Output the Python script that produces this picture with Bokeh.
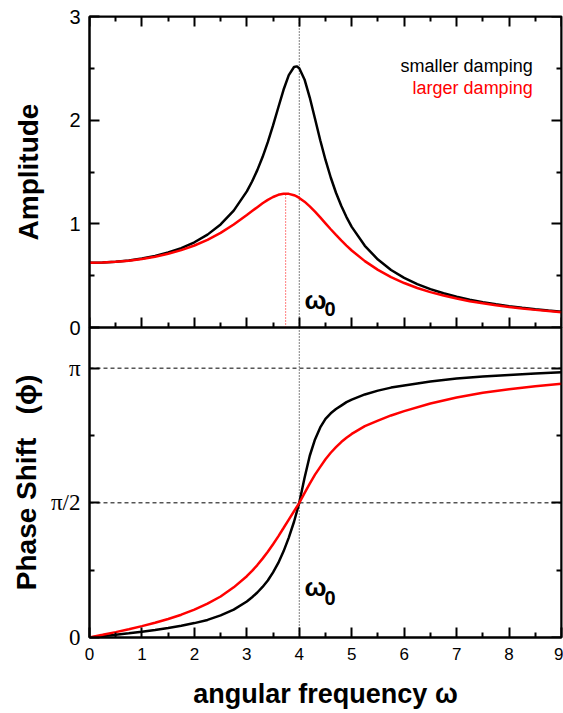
import math
from bokeh.plotting import figure
from bokeh.layouts import column
from bokeh.models import (Range1d, LinearAxis, FixedTicker, Span, Label,
                          CustomLabelingPolicy)
from bokeh.embed import file_html
from bokeh.resources import INLINE

# ---------------- data ----------------
omega = [0, 0.25, 0.5, 0.75, 1, 1.25, 1.5, 1.75, 2, 2.25, 2.5, 2.75, 3, 3.1, 3.2,
         3.3, 3.4, 3.5, 3.6, 3.7, 3.8, 3.9, 3.95, 4.0, 4.1, 4.2, 4.3, 4.4, 4.5, 4.6,
         4.7, 4.8, 4.9, 5.0, 5.25, 5.5, 5.75, 6, 6.25, 6.5, 6.75, 7, 7.25, 7.5,
         7.75, 8, 8.25, 8.5, 8.75, 9]
amp_small = [0.625, 0.627, 0.635, 0.647, 0.665, 0.690, 0.723, 0.766, 0.822, 0.896,
             0.994, 1.127, 1.313, 1.408, 1.518, 1.644, 1.788, 1.949, 2.122, 2.293,
             2.434, 2.513, 2.519, 2.500, 2.393, 2.218, 2.013, 1.806, 1.616, 1.447,
             1.300, 1.174, 1.065, 0.971, 0.788, 0.655, 0.555, 0.479, 0.419, 0.370,
             0.330, 0.296, 0.268, 0.244, 0.224, 0.206, 0.190, 0.176, 0.163, 0.152]
amp_large = [0.625, 0.627, 0.634, 0.645, 0.661, 0.683, 0.711, 0.746, 0.791, 0.846,
             0.913, 0.993, 1.085, 1.123, 1.161, 1.198, 1.231, 1.259, 1.280, 1.290,
             1.289, 1.276, 1.264, 1.250, 1.214, 1.168, 1.117, 1.062, 1.005, 0.948,
             0.893, 0.840, 0.790, 0.743, 0.640, 0.556, 0.486, 0.429, 0.381, 0.341,
             0.308, 0.279, 0.254, 0.233, 0.214, 0.198, 0.183, 0.170, 0.159, 0.148]

omega_ph = [0, 0.25, 0.5, 0.75, 1, 1.25, 1.5, 1.75, 2, 2.25, 2.5, 2.75, 3,
            3.1, 3.2, 3.3, 3.4, 3.5, 3.6, 3.7, 3.8, 3.9, 4.0,
            4.1, 4.2, 4.3, 4.4, 4.5, 4.6, 4.7, 4.8, 4.9, 5.0,
            5.25, 5.5, 5.75, 6.0, 6.5, 7.0, 7.5, 8.0, 8.5, 9.0]
phase_small = [0, 0.016, 0.032, 0.049, 0.067, 0.087, 0.110, 0.137, 0.168, 0.205, 0.258, 0.325, 0.420,
               0.470, 0.525, 0.590, 0.665, 0.760, 0.870, 1.005, 1.165, 1.350, 1.571,
               1.860, 2.120, 2.310, 2.450, 2.550, 2.615, 2.665, 2.705, 2.745, 2.775,
               2.835, 2.880, 2.915, 2.940, 2.985, 3.020, 3.045, 3.063, 3.080, 3.095]
phase_large = [0, 0.031, 0.063, 0.097, 0.133, 0.172, 0.216, 0.266, 0.325, 0.395, 0.478, 0.585, 0.715,
               0.777, 0.845, 0.920, 1.000, 1.088, 1.180, 1.277, 1.375, 1.473, 1.571,
               1.685, 1.795, 1.900, 1.990, 2.080, 2.155, 2.220, 2.280, 2.330, 2.375,
               2.465, 2.530, 2.590, 2.640, 2.730, 2.800, 2.855, 2.895, 2.930, 2.960]

omega0 = 4.0
red_peak_omega = 3.74
red_peak_amp = 1.29

x_ticks = [0, 1, 2, 3, 4, 5, 6, 7, 8, 9]
x_minor = [0.5, 1.5, 2.5, 3.5, 4.5, 5.5, 6.5, 7.5, 8.5]
amp_ticks = [0, 1, 2, 3]
amp_minor = [0.5, 1.5, 2.5]
phase_ticks = [0, math.pi / 2, math.pi]
phase_minor = [math.pi / 4, 3 * math.pi / 4]
phase_labels = {0: "0", math.pi / 2: "π/2", math.pi: "π"}

SANS = "Liberation Sans"
SERIF = "Liberation Serif"


def axis(**kw):
    base = dict(axis_line_width=2, axis_line_color="black",
                major_tick_line_width=2, minor_tick_line_width=2,
                major_tick_in=10, major_tick_out=0, minor_tick_in=5, minor_tick_out=0,
                major_label_text_color="black", axis_label_text_color="black")
    base.update(kw)
    return LinearAxis(**base)


NO_LABELS = ("try { for (let i = 0; i < indices.size; i++) { indices.unset(i) } } "
             "catch (e) {} return indices")


def hidden():
    return dict(major_label_text_font_size="0px", major_label_standoff=0,
                major_label_policy=CustomLabelingPolicy(code=NO_LABELS))


def base_fig(height, y_end, top, bottom):
    f = figure(width=563, height=height, x_range=Range1d(0, 9), y_range=Range1d(0, y_end),
               output_backend="svg", toolbar_location=None,
               x_axis_location=None, y_axis_location=None,
               min_border_left=89, min_border_right=2, min_border_top=top,
               min_border_bottom=bottom)
    f.grid.visible = False
    f.outline_line_color = "black"
    f.outline_line_width = 2
    f.add_layout(Span(location=omega0, dimension="height", line_color="black",
                      line_width=1, line_dash="1 2", level="underlay"))
    return f


def omega0_label(f, yw, yz):
    f.add_layout(Label(x=4.10, y=yw, text="ω", text_baseline="alphabetic", text_font=SANS,
                       text_font_style="bold", text_font_size="26px", text_color="black"))
    f.add_layout(Label(x=4.48, y=yz, text="0", text_baseline="alphabetic", text_font=SANS,
                       text_font_style="bold", text_font_size="20px", text_color="black"))


# ---------------- top panel: amplitude ----------------
p1 = base_fig(337, 3.0, 16, 10)
p1.add_layout(axis(ticker=FixedTicker(ticks=amp_ticks, minor_ticks=amp_minor),
                   major_label_text_font=SANS, major_label_text_font_size="20px",
                   major_label_standoff=9,
                   axis_label="Amplitude", axis_label_text_font=SANS,
                   axis_label_text_font_style="bold", axis_label_text_font_size="28px",
                   axis_label_standoff=22), "left")
p1.add_layout(axis(ticker=FixedTicker(ticks=amp_ticks, minor_ticks=amp_minor),
                   fixed_location=9, **hidden()), "right")
p1.add_layout(axis(ticker=FixedTicker(ticks=x_ticks, minor_ticks=x_minor),
                   fixed_location=3, **hidden()), "above")
p1.add_layout(axis(ticker=FixedTicker(ticks=x_ticks, minor_ticks=x_minor),
                   fixed_location=0, **hidden()), "below")

p1.segment(x0=[red_peak_omega], y0=[0], x1=[red_peak_omega], y1=[red_peak_amp],
           line_color="red", line_width=1, line_dash="1 2")
p1.line(omega, amp_small, line_color="black", line_width=2.5)
p1.line(omega, amp_large, line_color="red", line_width=2.5)

p1.add_layout(Label(x=8.45, y=2.518, text="smaller damping", text_align="right",
                    text_baseline="alphabetic", text_font=SANS, text_font_size="18px",
                    text_color="black"))
p1.add_layout(Label(x=8.45, y=2.312, text="larger damping", text_align="right",
                    text_baseline="alphabetic", text_font=SANS, text_font_size="18px",
                    text_color="red"))
omega0_label(p1, 0.265, 0.175)

# ---------------- bottom panel: phase ----------------
p2 = base_fig(386, 3.616, 0, 76)
p2.margin = (-10, 0, 0, 0)
p2.background_fill_color = None
p2.border_fill_color = None
p2.add_layout(axis(ticker=FixedTicker(ticks=x_ticks, minor_ticks=x_minor),
                   axis_label="angular frequency ω",
                   axis_label_text_font=SANS, axis_label_text_font_style="bold",
                   axis_label_text_font_size="27px", axis_label_standoff=16,
                   major_label_standoff=10, major_label_text_font=SANS,
                   major_label_text_font_size="17px"), "below")
p2.add_layout(axis(ticker=FixedTicker(ticks=phase_ticks, minor_ticks=phase_minor),
                   major_label_overrides=phase_labels,
                   major_label_text_font=SERIF, major_label_text_font_size="23px",
                   major_label_standoff=9,
                   axis_label="Phase Shift\u00a0\u00a0\u00a0(ϕ)", axis_label_text_font=SANS,
                   axis_label_text_font_style="bold", axis_label_text_font_size="28px",
                   axis_label_standoff=6), "left")
p2.add_layout(axis(ticker=FixedTicker(ticks=phase_ticks, minor_ticks=phase_minor),
                   fixed_location=9, **hidden()), "right")

for loc in (math.pi / 2, math.pi):
    p2.add_layout(Span(location=loc, dimension="width", line_color="black",
                       line_width=1, line_dash="4 3", level="underlay"))
p2.line(omega_ph, phase_small, line_color="black", line_width=2.5)
p2.line(omega_ph, phase_large, line_color="red", line_width=2.5)
omega0_label(p2, 0.585, 0.455)

layout = column(p1, p2)
open("out.html", "w").write(file_html(layout, INLINE))
